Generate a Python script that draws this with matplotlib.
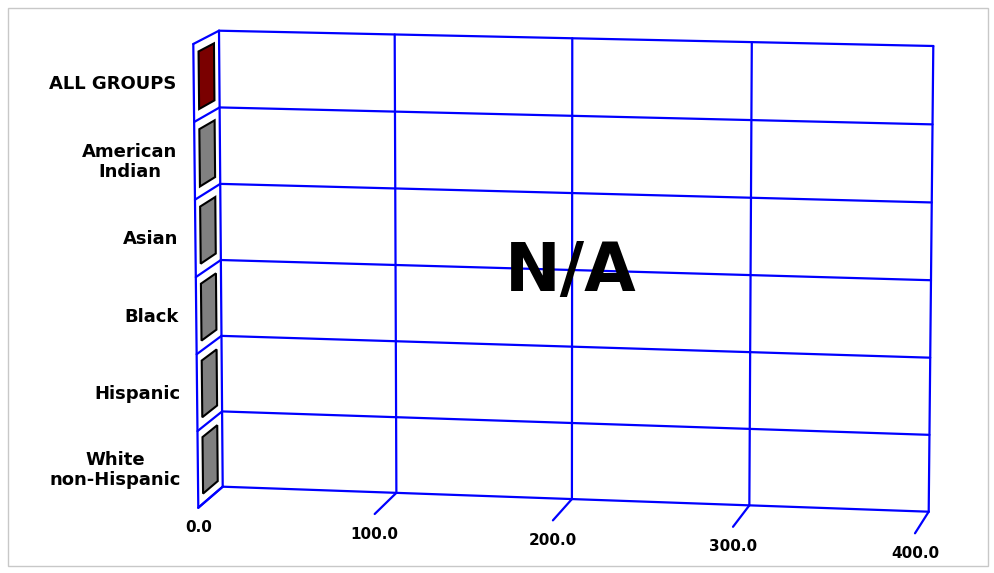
import numpy as np
import matplotlib
matplotlib.use("Agg")
from matplotlib import pyplot as plt
from matplotlib.patches import Polygon, Rectangle

# data (no values available -> N/A)
categories = ["ALL GROUPS", "American\nIndian", "Asian", "Black", "Hispanic", "White\nnon-Hispanic"]
values = [0.0, 0.0, 0.0, 0.0, 0.0, 0.0]
bar_colors = ["#7a0000", "#808080", "#808080", "#808080", "#808080", "#808080"]
x_ticks = [0.0, 100.0, 200.0, 300.0, 400.0]
x_max = 400.0

# layout of the 3d box in pixels (back wall and front plane corners)
back_quad = [(219.0, 30.7), (933.3, 46.0), (928.7, 511.7), (222.7, 486.7)]
front_quad = [(193.3, 44.0), (918.0, 60.0), (915.0, 533.3), (198.3, 507.7)]


def homography(dst):
    src = [(0, 0), (1, 0), (1, 1), (0, 1)]
    A = []
    b = []
    for (x, y), (u, v) in zip(src, dst):
        A.append([x, y, 1, 0, 0, 0, -u * x, -u * y])
        A.append([0, 0, 0, x, y, 1, -v * x, -v * y])
        b += [u, v]
    h = np.linalg.solve(np.array(A, float), np.array(b, float))
    return np.append(h, 1).reshape(3, 3)


H_back = homography(back_quad)
H_front = homography(front_quad)
n_rows = len(categories)


def proj(val, row, depth):
    p = np.array([val / x_max, row / n_rows, 1.0])
    a = H_back @ p
    f = H_front @ p
    a = a[:2] / a[2]
    f = f[:2] / f[2]
    return (1 - depth) * a + depth * f


fig = plt.figure(figsize=(9.95, 5.73), dpi=100)
ax = fig.add_axes([0, 0, 1, 1])
ax.set_xlim(0, 995)
ax.set_ylim(573, 0)
ax.axis("off")

# outer border
ax.add_patch(Rectangle((7.5, 7.5), 980, 558, fill=False, ec="#c8c8c8", lw=1))

blue = "#0000ff"
lw = 1.6

def seg(p, q):
    ax.plot([p[0], q[0]], [p[1], q[1]], color=blue, lw=lw, solid_capstyle="round", zorder=2)

# back wall
for t in x_ticks:
    seg(proj(t, 0, 0), proj(t, n_rows, 0))
for r in range(n_rows + 1):
    seg(proj(0, r, 0), proj(x_max, r, 0))
    # side wall
    seg(proj(0, r, 0), proj(0, r, 1))
seg(proj(0, 0, 1), proj(0, n_rows, 1))

# floor ticks and labels
for t in x_ticks:
    seg(proj(t, n_rows, 0), proj(t, n_rows, 1))
    p = proj(t, n_rows, 1)
    ax.text(p[0], p[1] + 20, "%.1f" % t, ha="center", va="center",
            fontsize=11, fontweight="bold", color="black")

# bars (zero values -> only the end faces on the side wall)
for i, (cat, v, c) in enumerate(zip(categories, values, bar_colors)):
    r0, r1 = i + 0.13, i + 0.87
    d0, d1 = 0.2, 0.8
    pts = [proj(v, r0, d0), proj(v, r0, d1), proj(v, r1, d1), proj(v, r1, d0)]
    ax.add_patch(Polygon(pts, closed=True, fc=c, ec="black", lw=1.5, zorder=3))
    lp = proj(0, i + 0.5, 1)
    ax.text(lp[0] - 17, lp[1] + 1, cat, ha="right", va="center", multialignment="center",
            fontsize=13, fontweight="bold", linespacing=1.15, color="black")

cp = proj(x_max / 2, n_rows / 2, 0)
ax.text(cp[0] - 1, cp[1] + 2, "N/A", ha="center", va="center", fontsize=48,
        fontweight="bold", color="black", zorder=5)

fig.savefig("out.png", dpi=100)
